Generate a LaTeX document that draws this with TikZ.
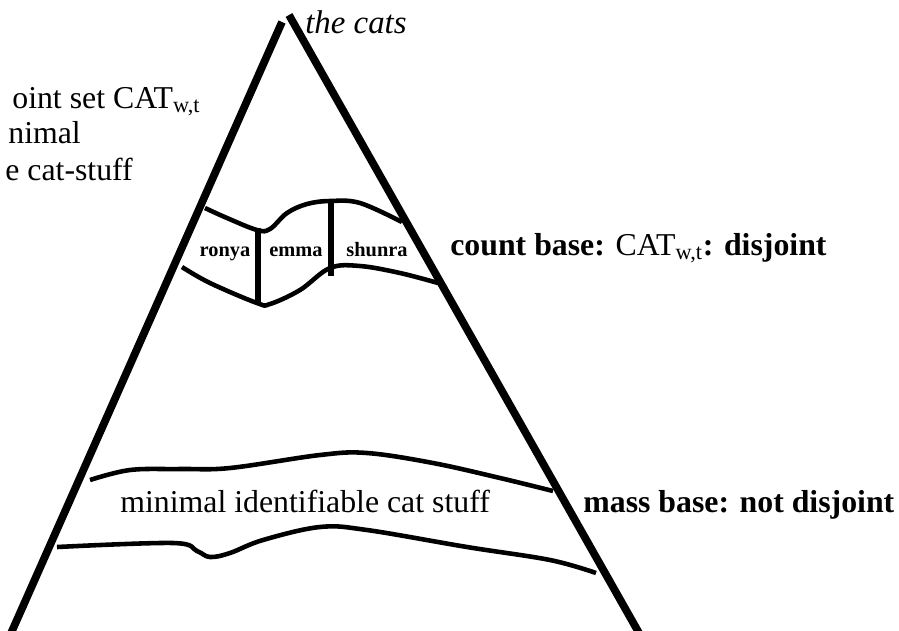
\documentclass[tikz,border=0pt]{standalone}
\usepackage{fontspec}
\setmainfont{Liberation Serif}
\usetikzlibrary{positioning, calc}
\def\px{0.02cm}
\tikzset{
    leg/.style={line width=4.4pt, line cap=butt},
    band/.style={line width=2.6pt, line cap=butt},
    divider/.style={line width=3pt, line cap=butt},
    bigtxt/.style={inner sep=0pt, anchor=base west, font=\fontsize{18.1}{21}\selectfont},
    catname/.style={inner sep=0pt, anchor=base, font=\fontsize{11.6}{14}\selectfont\bfseries},
}
\begin{document}
\begin{tikzpicture}[x=\px, y=-\px]
        \useasboundingbox (0,0) rectangle (899,630);
        \clip (0,0) rectangle (899,630);
        % Triangle (legs)
        \draw[leg] (282,22) -- (8,640);
        \draw[leg] (289,15) -- (643,640);
        \node[inner sep=0pt, anchor=base west, font=\fontsize{18.7}{21}\selectfont\itshape] (cats) at (305,33) {the cats};

        % Left text
        \node[bigtxt] (lineA) at (12,108) {oint set CAT\textsubscript{w,t}};
        \node[bigtxt] (lineB) at (8,143) {nimal};
        \node[bigtxt] (lineC) at (5,180) {e cat-stuff};

        % Count base band
        \draw[band] plot[smooth, tension=0.6] coordinates {(205,208) (227,218) (257,230) (270,229) (287,213) (307,204) (330,201) (360,203) (402,222)};
        \draw[band] plot[smooth, tension=0.6] coordinates {(182,267) (210,283) (257,303) (270,304) (300,290) (330,268) (360,266) (400,273) (438,283)};
        \draw[divider] (258,228) -- (258,304);
        \draw[divider] (331,200) -- (331,276);
        \node[catname] (ronya) at (225,256) {ronya};
        \node[catname] (emma) at (296,256) {emma};
        \node[catname] (shunra) at (377,256) {shunra};
        \node[bigtxt] (countbase) at (450,255) {\textbf{count base:} CAT\textsubscript{w,t}\textbf{: disjoint}};

        % Mass base band
        \draw[band] plot[smooth, tension=0.6] coordinates {(90,480) (130,470) (180,469) (230,468) (320,455) (367,453) (433,463) (500,478) (553,491)};
        \draw[band] plot[smooth, tension=0.6] coordinates {(57,547) (173,543) (197,551) (210,557) (230,553) (263,540) (320,527) (367,530) (467,547) (550,560) (596,573)};
        \node[bigtxt] (stuff) at (120,512) {minimal identifiable cat stuff};
        \node[bigtxt, font=\fontsize{18.1}{21}\selectfont\bfseries] (massbase) at (583,512) {mass base: not disjoint};
    \end{tikzpicture}
\end{document}
